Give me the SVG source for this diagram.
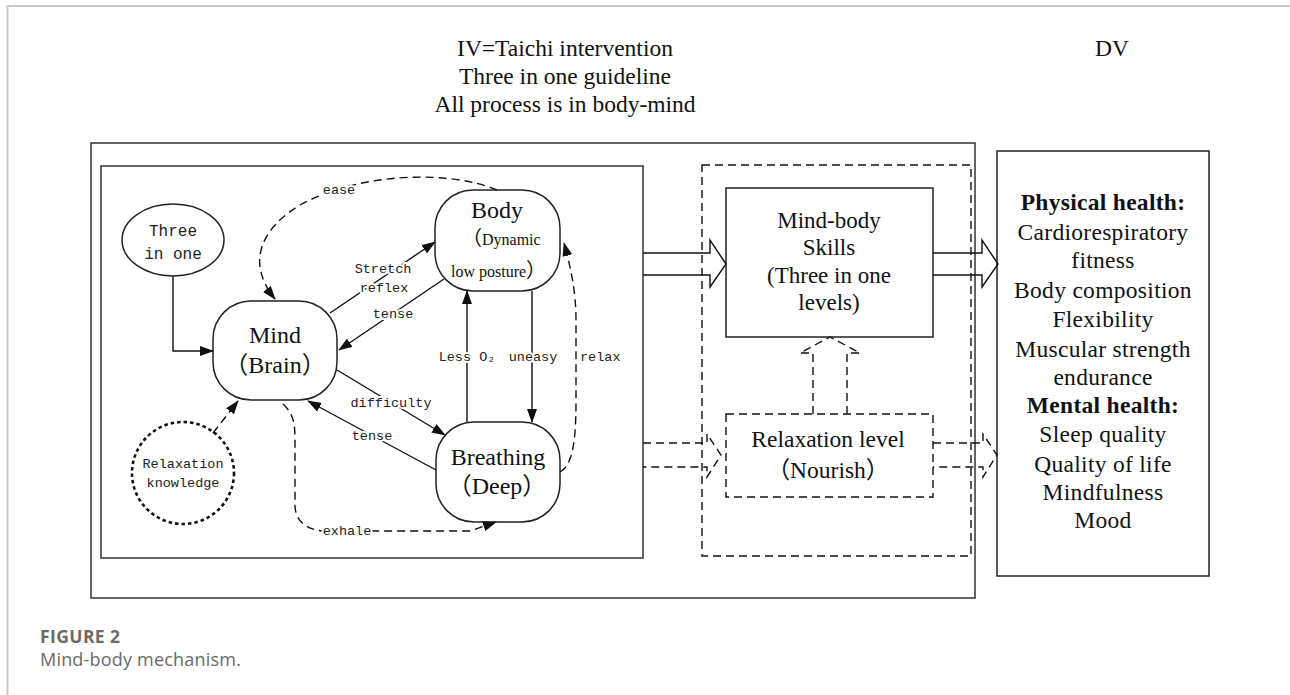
<svg xmlns="http://www.w3.org/2000/svg" width="1290" height="695" viewBox="0 0 1290 695">
<style>
  .serif { font-family: "Liberation Serif", "Noto Sans CJK SC", serif; fill: #111; }
  .mono { font-family: "Liberation Mono", "DejaVu Sans Mono", monospace; fill: #222; }
  .lbl { font-family: "Liberation Mono", "DejaVu Sans Mono", monospace; font-size: 13.5px; fill: #222; stroke: #fff; stroke-width: 4px; paint-order: stroke; stroke-linejoin: round; }
  .solid { fill: none; stroke: #111; stroke-width: 1.4; }
  .dash { fill: none; stroke: #111; stroke-width: 1.4; stroke-dasharray: 8 5; }
  .box { fill: #fff; stroke: #222; stroke-width: 1.5; }
  .cap { font-family: "Open Sans", "Liberation Sans", sans-serif; fill: #6a6a6a; }
</style>
<defs>
  <marker id="ah" markerWidth="14" markerHeight="10" refX="13" refY="5" orient="auto" markerUnits="userSpaceOnUse">
    <path d="M0,0 L14,5 L0,10 Z" fill="#111"/>
  </marker>
</defs>
<rect width="1290" height="695" fill="#fff"/>
<!-- page frame -->
<path d="M7.5 695 V6 H1290" fill="none" stroke="#c8c8c8" stroke-width="2"/>

<!-- header -->
<g id="header">
  <text class="serif" x="565" y="56" font-size="23.5" text-anchor="middle">IV=Taichi intervention</text>
  <text class="serif" x="565" y="84" font-size="23.5" text-anchor="middle">Three in one guideline</text>
  <text class="serif" x="565" y="112" font-size="23.5" text-anchor="middle">All process is in body-mind</text>
  <text class="serif" x="1112" y="56" font-size="23.5" text-anchor="middle">DV</text>
</g>

<!-- containers -->
<g id="iv-box"><rect x="91" y="143" width="884" height="455" fill="none" stroke="#333" stroke-width="1.5"/></g>
<g id="inner-box"><rect x="101" y="166" width="542" height="392" fill="none" stroke="#333" stroke-width="1.5"/></g>
<g id="dashed-box"><rect x="702" y="165" width="269" height="391" class="dash" stroke-width="1.3"/></g>

<!-- left diagram nodes -->
<g id="three-in-one">
  <ellipse cx="173" cy="240" rx="51" ry="36" class="box" stroke-width="1.4"/>
  <text class="mono" x="173" y="236" font-size="16" text-anchor="middle">Three</text>
  <text class="mono" x="173" y="259" font-size="16" text-anchor="middle">in one</text>
</g>
<g id="mind">
  <rect x="213" y="301" width="124" height="99" rx="38" ry="38" class="box" stroke-width="1.4"/>
  <text class="serif" x="275" y="343" font-size="24" text-anchor="middle">Mind</text>
  <text class="serif" x="275" y="373" font-size="24" text-anchor="middle">（Brain）</text>
</g>
<g id="body">
  <rect x="435" y="190" width="125" height="101" rx="38" ry="38" class="box" stroke-width="1.4"/>
  <text class="serif" x="497" y="218" font-size="24" text-anchor="middle">Body</text>
  <text class="serif" x="462" y="245" font-size="16"><tspan font-size="20">（</tspan>Dynamic</text>
  <text class="serif" x="451" y="277" font-size="16">low posture<tspan font-size="20">）</tspan></text>
</g>
<g id="breathing">
  <rect x="436" y="422" width="124" height="100" rx="38" ry="38" class="box" stroke-width="1.4"/>
  <text class="serif" x="498" y="465" font-size="24" text-anchor="middle">Breathing</text>
  <text class="serif" x="497" y="494" font-size="24" text-anchor="middle">（Deep）</text>
</g>
<g id="relaxation-knowledge">
  <circle cx="183" cy="473" r="51" fill="#fff" stroke="#111" stroke-width="2.6" stroke-dasharray="3.5 3"/>
  <text class="mono" x="183" y="468" font-size="13.5" text-anchor="middle">Relaxation</text>
  <text class="mono" x="183" y="487" font-size="13.5" text-anchor="middle">knowledge</text>
</g>

<!-- middle and right nodes -->
<g id="skills">
  <rect x="726" y="188" width="207" height="149" class="box"/>
  <text class="serif" x="829" y="228" font-size="23" text-anchor="middle">Mind-body</text>
  <text class="serif" x="829" y="255" font-size="23" text-anchor="middle">Skills</text>
  <text class="serif" x="829" y="283" font-size="23" text-anchor="middle">(Three in one</text>
  <text class="serif" x="829" y="310" font-size="23" text-anchor="middle">levels)</text>
</g>
<g id="relaxation-level">
  <rect x="726" y="414" width="207" height="83" fill="#fff" class="dash" stroke-width="1.5"/>
  <text class="serif" x="828" y="447" font-size="23.5" text-anchor="middle">Relaxation level</text>
  <text class="serif" x="828" y="478" font-size="23.5" text-anchor="middle">（Nourish）</text>
</g>
<g id="dv-box">
  <rect x="997" y="151" width="212" height="425" class="box"/>
  <g class="serif" font-size="23.5" letter-spacing="0.3" text-anchor="middle">
    <text x="1103" y="210" font-weight="bold">Physical health:</text>
    <text x="1103" y="240">Cardiorespiratory</text>
    <text x="1103" y="268">fitness</text>
    <text x="1103" y="298">Body composition</text>
    <text x="1103" y="327">Flexibility</text>
    <text x="1103" y="357">Muscular strength</text>
    <text x="1103" y="385">endurance</text>
    <text x="1103" y="413" font-weight="bold">Mental health:</text>
    <text x="1103" y="442">Sleep quality</text>
    <text x="1103" y="472">Quality of life</text>
    <text x="1103" y="500">Mindfulness</text>
    <text x="1103" y="528">Mood</text>
  </g>
</g>

<!-- connectors -->
<g id="connectors">
  <!-- left diagram -->
  <path class="solid" d="M173 276 V351 H213" marker-end="url(#ah)"/>
  <path class="dash" d="M213 433 L238 401" stroke-dasharray="5 4" marker-end="url(#ah)"/>
  <path class="dash" d="M497 190 C450 170, 360 172, 300 205 C262 228, 245 262, 275 299" marker-end="url(#ah)"/>
  <path class="solid" d="M330 313 L435 242" marker-end="url(#ah)"/>
  <path class="solid" d="M444 279 L339 350" marker-end="url(#ah)"/>
  <path class="solid" d="M337 370 L445 435" marker-end="url(#ah)"/>
  <path class="solid" d="M436 470 L308 401" marker-end="url(#ah)"/>
  <path class="solid" d="M467 422 V291" marker-end="url(#ah)"/>
  <path class="solid" d="M532 291 V422" marker-end="url(#ah)"/>
  <path class="dash" d="M560 472 C572 465, 576 445, 576 400 L576 320 C576 290, 570 265, 564 243" marker-end="url(#ah)"/>
  <path class="dash" d="M283 404 C294 414, 295 425, 295 440 L295 505 C295 520, 305 529, 322 531 L470 531 L496 522" marker-end="url(#ah)"/>

  <!-- labels -->
  <text class="lbl" x="339" y="194" text-anchor="middle">ease</text>
  <text class="lbl" x="383" y="273" text-anchor="middle">Stretch</text>
  <text class="lbl" x="384" y="292" text-anchor="middle">reflex</text>
  <text class="lbl" x="393" y="318" text-anchor="middle">tense</text>
  <text class="lbl" x="391" y="407" text-anchor="middle">difficulty</text>
  <text class="lbl" x="372" y="440" text-anchor="middle">tense</text>
  <text class="lbl" x="467" y="361" text-anchor="middle">Less O₂</text>
  <text class="lbl" x="533" y="361" text-anchor="middle">uneasy</text>
  <text class="lbl" x="580" y="361">relax</text>
  <text class="lbl" x="347" y="535" text-anchor="middle">exhale</text>

  <!-- hollow arrows -->
  <path class="solid" d="M643 253 H710 V240 L726 264 L710 287 V275 H643"/>
  <path class="solid" d="M933 253 H982 V240 L998 264 L982 287 V275 H933"/>
  <path class="dash" d="M643 443 H707 V434 L721 455 L707 477 V467 H643" stroke-dasharray="8 5"/>
  <path class="dash" d="M933 443 H983 V434 L997 455 L983 477 V467 H933" stroke-dasharray="8 5"/>
  <path class="dash" d="M813 414 V353 H800 L830 337 L860 353 H847 V414" stroke-dasharray="8 5"/>
</g>

<!-- caption -->
<g id="caption">
  <text class="cap" x="40" y="643" font-size="17.5" font-weight="bold" letter-spacing="0.4">FIGURE 2</text>
  <text class="cap" x="40" y="666" font-size="18" letter-spacing="0.2">Mind-body mechanism.</text>
</g>
</svg>
